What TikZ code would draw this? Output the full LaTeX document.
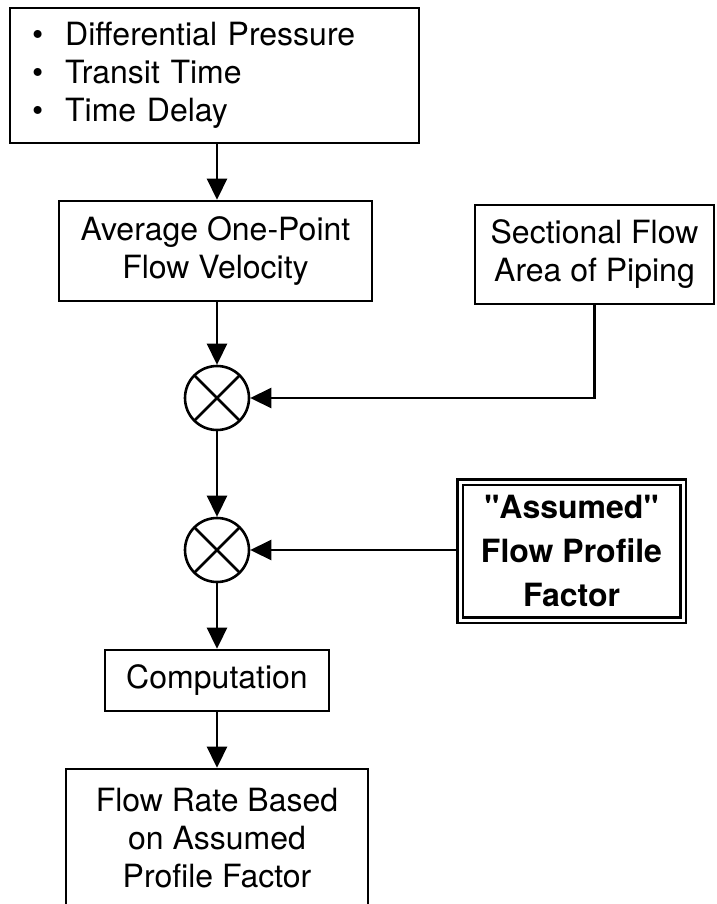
\documentclass[tikz,border=0pt]{standalone}
\usepackage{fontspec}
\setmainfont{TeX Gyre Heros}
\usetikzlibrary{arrows.meta}
\tikzset{
  box/.style={draw,line width=2.6pt,inner sep=0pt,align=center,font=\fontsize{32}{38}\selectfont},
  mult/.style={draw,circle,line width=2.6pt,minimum size=64pt,inner sep=0pt,
    path picture={\draw[line width=2.6pt] (path picture bounding box.north west) -- (path picture bounding box.south east)
      (path picture bounding box.north east) -- (path picture bounding box.south west);}},
  dblbox/.style={box,double,double distance=3pt,outer sep=4pt,font=\fontsize{32}{44}\selectfont\bfseries},
  arr/.style={line width=2.6pt,-{Triangle[length=21pt,width=20pt]}}
}

\begin{document}
\begin{tikzpicture}[x=1pt,y=-1pt]
    \useasboundingbox (0,0) rectangle (716,904);
    \clip (0,0) rectangle (716,904);

    \node[box,align=left,text width=365pt,inner xsep=22pt,minimum height=135pt] (src) at (214.5,75.5)
        {\textbullet\hspace{22pt}Differential Pressure\\
         \textbullet\hspace{22pt}Transit Time\\
         \textbullet\hspace{22pt}Time Delay};
    \node[box,minimum width=313pt,minimum height=100pt] (avg) at (215.5,251) {Average One-Point\\Flow Velocity};
    \node[box,minimum width=239pt,minimum height=99pt] (sect) at (594.5,254.5) {Sectional Flow\\Area of Piping};
    \node[mult] (m1) at (217,398) {};
    \node[mult] (m2) at (217,550) {};
    \node[dblbox,minimum width=223pt,minimum height=138pt] (prof) at (571.5,551) {\textquotedbl Assumed\textquotedbl\\Flow Profile\\Factor};
    \node[box,minimum width=224pt,minimum height=61pt] (comp) at (217,680.5) {Computation};
    \node[box,minimum width=302pt,minimum height=138pt] (res) at (217,838) {Flow Rate Based\\on Assumed\\Profile Factor};

    \draw[arr] (src.south -| m1) -- (avg.north -| m1);
    \draw[arr] (avg.south -| m1) -- (m1.north);
    \draw[arr] (sect.south) |- (m1.east);
    \draw[arr] (m1) -- (m2);
    \draw[arr] (prof.west |- m2) -- (m2.east);
    \draw[arr] (m2) -- (comp);
    \draw[arr] (comp) -- (res);
\end{tikzpicture}
\end{document}
